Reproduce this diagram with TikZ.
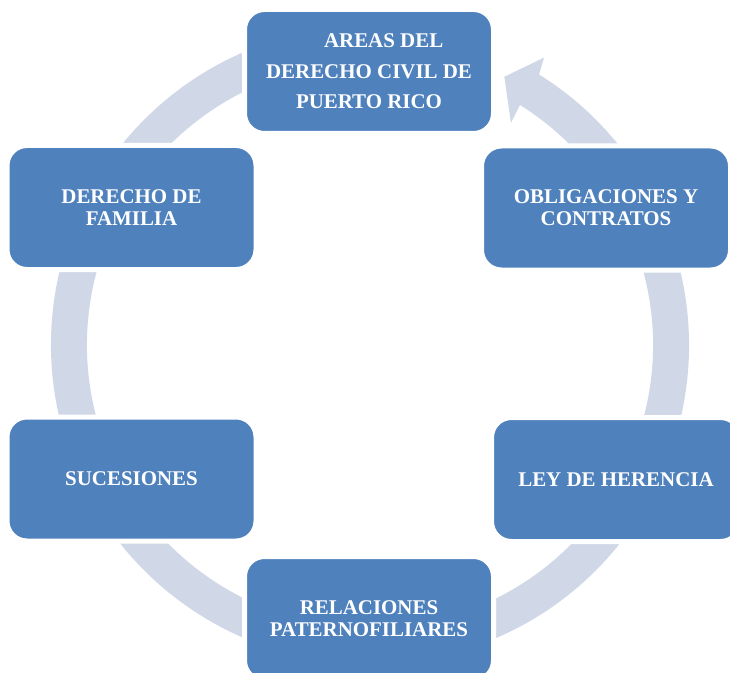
\documentclass[tikz,border=0pt]{standalone}
\usepackage{fontspec}
\setmainfont{Liberation Serif}
\usetikzlibrary{calc}
\definecolor{boxblue}{RGB}{79,129,189}
\definecolor{ringgrey}{RGB}{208,216,232}
\tikzset{every picture/.style={line width=0.75pt}}
\tikzset{areabox/.style={rectangle, rounded corners=15pt, fill=boxblue, draw=white, line width=3.75pt, minimum width=186.75pt, minimum height=93pt, inner sep=0pt, align=center, text=white, font=\fontsize{15.7pt}{16.5pt}\selectfont\bfseries}}

\begin{document}
\begin{tikzpicture}[x=0.75pt,y=0.75pt,yscale=-1,xscale=1]
\useasboundingbox (0,0) rectangle (730,673);
\coordinate (ctr) at (370,345);

%Shape: Ring with arrow [id:ring]
\fill [ringgrey] ($(ctr)+(-58:319)$) arc[start angle=-58, end angle=250, radius=319] -- ($(ctr)+(250:283)$) arc[start angle=250, end angle=-58, radius=283] -- ($(ctr)+(-57.6:263)$) -- ($(ctr)+(-63.4:300)$) -- ($(ctr)+(-58.8:336)$) -- cycle ;

% Text Node
\node [areabox, font=\fontsize{15.7pt}{22.9pt}\selectfont\bfseries] (areas) at (369,71.5) {\hspace*{22pt}AREAS DEL\\DERECHO CIVIL DE\\PUERTO RICO};
% Text Node
\node [areabox] (obligaciones) at (606,208) {OBLIGACIONES Y\\CONTRATOS};
% Text Node
\node [areabox] (ley) at (616,479.5) {LEY DE HERENCIA};
% Text Node
\node [areabox] (relaciones) at (369,618.5) {RELACIONES\\PATERNOFILIARES};
% Text Node
\node [areabox] (sucesiones) at (131.5,479) {SUCESIONES};
% Text Node
\node [areabox] (familia) at (131.5,207.5) {DERECHO DE\\FAMILIA};

\end{tikzpicture}
\end{document}
